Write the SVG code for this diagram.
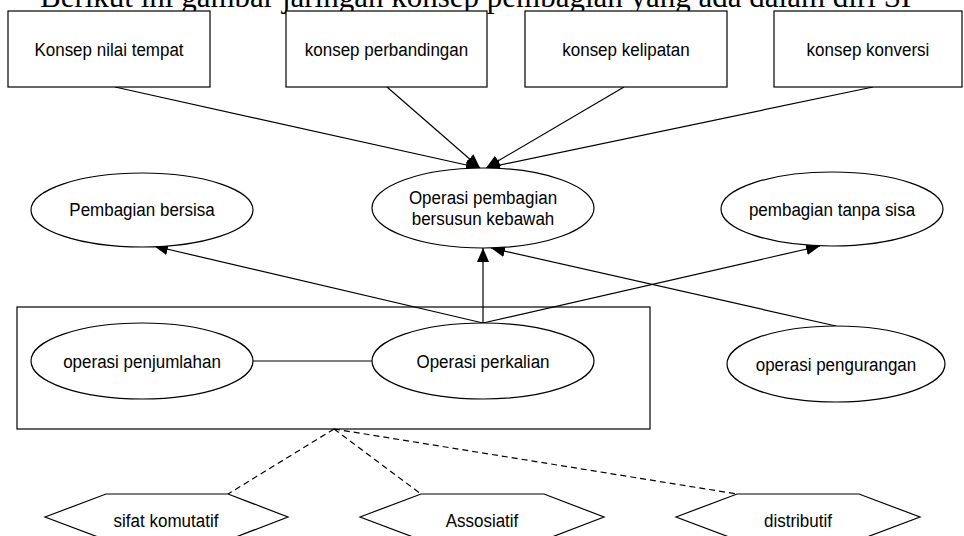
<svg xmlns="http://www.w3.org/2000/svg" width="964" height="536" viewBox="0 0 964 536">
<style>
.shape{fill:#fff;stroke:#000;stroke-width:1.2}
.lbl{font-family:"Liberation Sans",Arial,sans-serif;font-size:17px;fill:#000;text-anchor:middle;transform-box:fill-box;transform-origin:center;transform:scaleY(1.12)}
.title{font-family:"Liberation Serif","Times New Roman",serif;font-size:31px;fill:#000}
.edge{fill:none;stroke:#000;stroke-width:1.2}
.dash{fill:none;stroke:#000;stroke-width:1.2;stroke-dasharray:6 4}
</style>
<defs>
<marker id="arr" markerUnits="userSpaceOnUse" markerWidth="14" markerHeight="12" refX="14" refY="6" orient="auto" viewBox="0 0 14 12">
<path d="M0,0 L14,6 L0,12 z" fill="#000"/>
</marker>
</defs>
<rect width="964" height="536" fill="#fff"/>
<text class="title" x="40" y="7">Berikut ini gambar jaringan konsep pembagian yang ada dalam diri SI</text>

<g id="group-box"><rect class="shape" x="17" y="307" width="633" height="122" style="fill:none"/></g>

<g id="connectors">
<line class="edge" x1="115" y1="87" x2="480" y2="168" marker-end="url(#arr)"/>
<line class="edge" x1="387" y1="87" x2="480" y2="168" marker-end="url(#arr)"/>
<line class="edge" x1="624" y1="87" x2="486" y2="168" marker-end="url(#arr)"/>
<line class="edge" x1="873" y1="87" x2="486" y2="168" marker-end="url(#arr)"/>
<line class="edge" x1="483" y1="323" x2="154" y2="246" marker-end="url(#arr)"/>
<line class="edge" x1="483" y1="323" x2="483" y2="248" marker-end="url(#arr)"/>
<line class="edge" x1="483" y1="323" x2="820" y2="246" marker-end="url(#arr)"/>
<line class="edge" x1="836" y1="326" x2="491" y2="248" marker-end="url(#arr)"/>
<line class="edge" x1="253" y1="361" x2="372" y2="361"/>
<line class="dash" x1="334" y1="429" x2="228" y2="494"/>
<line class="dash" x1="334" y1="429" x2="421" y2="494"/>
<line class="dash" x1="334" y1="429" x2="737" y2="494"/>
</g>

<g id="konsep-nilai-tempat"><rect class="shape" x="8" y="11" width="202" height="76"/><text class="lbl" x="109" y="55">Konsep nilai tempat</text></g>
<g id="konsep-perbandingan"><rect class="shape" x="286" y="11" width="201" height="76"/><text class="lbl" x="386.5" y="55">konsep perbandingan</text></g>
<g id="konsep-kelipatan"><rect class="shape" x="525" y="11" width="202" height="76"/><text class="lbl" x="626" y="55">konsep kelipatan</text></g>
<g id="konsep-konversi"><rect class="shape" x="774" y="11" width="188" height="76"/><text class="lbl" x="868" y="55">konsep konversi</text></g>

<g id="pembagian-bersisa"><ellipse class="shape" cx="142" cy="210" rx="111" ry="37"/><text class="lbl" x="142" y="215">Pembagian bersisa</text></g>
<g id="operasi-pembagian"><ellipse class="shape" cx="483" cy="208" rx="111" ry="40"/><text class="lbl" x="483" y="203">Operasi pembagian</text><text class="lbl" x="483" y="224">bersusun kebawah</text></g>
<g id="pembagian-tanpa-sisa"><ellipse class="shape" cx="832" cy="209" rx="111" ry="37"/><text class="lbl" x="832" y="215">pembagian tanpa sisa</text></g>

<g id="operasi-penjumlahan"><ellipse class="shape" cx="142" cy="361" rx="111" ry="38"/><text class="lbl" x="142" y="367">operasi penjumlahan</text></g>
<g id="operasi-perkalian"><ellipse class="shape" cx="483" cy="361" rx="111" ry="38"/><text class="lbl" x="483" y="367">Operasi perkalian</text></g>
<g id="operasi-pengurangan"><ellipse class="shape" cx="836" cy="364" rx="109" ry="38"/><text class="lbl" x="836" y="370">operasi pengurangan</text></g>

<g id="sifat-komutatif"><polygon class="shape" points="45,517 106,494 228,494 288,517 228,540 106,540"/><text class="lbl" x="166" y="526">sifat komutatif</text></g>
<g id="assosiatif"><polygon class="shape" points="360,517 421,494 544,494 604,517 544,540 421,540"/><text class="lbl" x="482" y="526">Assosiatif</text></g>
<g id="distributif"><polygon class="shape" points="676,517 737,494 859,494 920,517 859,540 737,540"/><text class="lbl" x="798" y="526">distributif</text></g>
</svg>
